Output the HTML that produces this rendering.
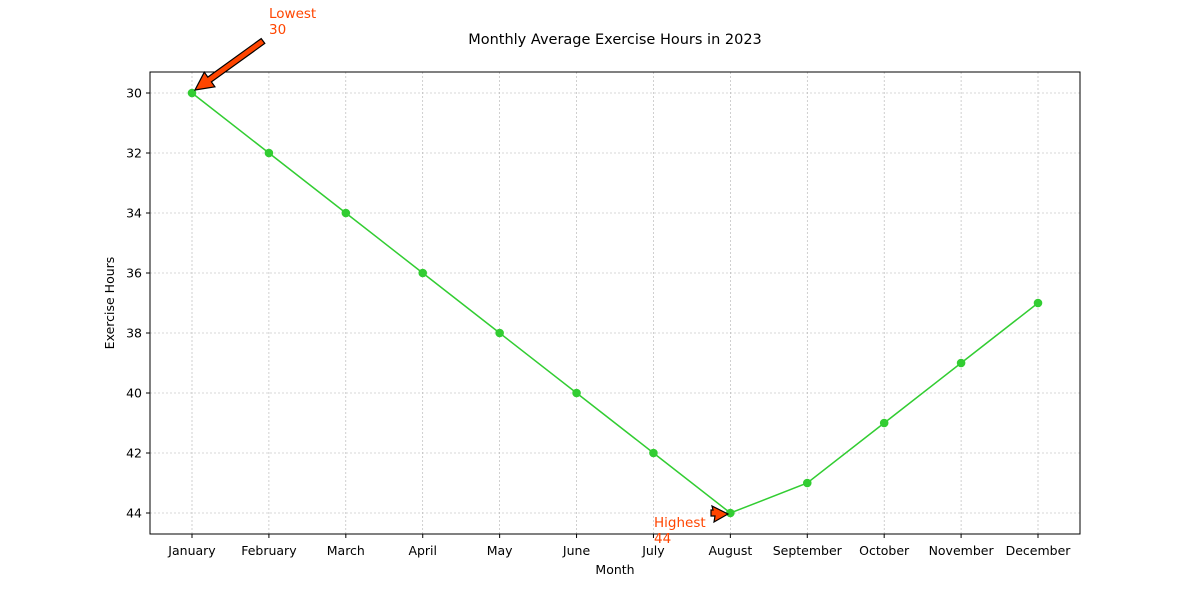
<!DOCTYPE html>
<html><head><meta charset="utf-8"><style>
body{margin:0;background:#fff}
svg text{font-family:"DejaVu Sans","Liberation Sans",sans-serif}
</style></head><body>
<svg id="c" width="1200" height="600" xmlns="http://www.w3.org/2000/svg">
<g id="marks"></g>
<path d="M195,90 L214.9,86.8 L211.4,81.9 L264.8,43.4 L261.2,38.6 L207.8,77.1 L204.3,72.2 Z" fill="#ff4500" stroke="#000" stroke-width="1.2"/>
<path d="M728,514 L714,522 L715,516 L711,516 L711,510 L713,510 L712,506 Z" fill="#ff4500" stroke="#000" stroke-width="1.2"/>
<text x="269" y="18" fill="#ff4500" font-size="13.5">Lowest</text>
<text x="269" y="34" fill="#ff4500" font-size="13.5">30</text>
<text x="654" y="527" fill="#ff4500" font-size="13.5">Highest</text>
<text x="654" y="543" fill="#ff4500" font-size="13.5">44</text>
</svg>
<script>
const months=["January","February","March","April","May","June","July","August","September","October","November","December"];
const hours=[30,32,34,36,38,40,42,44,43,41,39,37];
const yTicks=[30,32,34,36,38,40,42,44];
const svg=document.getElementById('marks');
const NS='http://www.w3.org/2000/svg';
const L=150,R=1080,T=72,B=534,ymin=29.3,ymax=44.7;
const xs=i=>192+i*(1038-192)/(months.length-1);
const ys=v=>T+(v-ymin)/(ymax-ymin)*(B-T);
function el(t,attrs,txt){const n=document.createElementNS(NS,t);for(const k in attrs)n.setAttribute(k,attrs[k]);if(txt!==undefined)n.textContent=txt;svg.appendChild(n);return n;}
let e;
e=el('text',{x:615,y:44,'text-anchor':'middle','font-size':14.5},'Monthly Average Exercise Hours in 2023');

months.forEach((m,i)=>{
 e=el('line',{x1:xs(i),x2:xs(i),y1:T,y2:B,stroke:'#b0b0b0','stroke-width':0.6,'stroke-dasharray':'2,2'});
 
 el('line',{x1:xs(i),x2:xs(i),y1:B,y2:B+4,stroke:'#000'});
 e=el('text',{x:xs(i),y:555,'text-anchor':'middle','font-size':12.5},m);
 
});
yTicks.forEach(v=>{
 e=el('line',{x1:L,x2:R,y1:ys(v),y2:ys(v),stroke:'#b0b0b0','stroke-width':0.6,'stroke-dasharray':'2,2'});
 
 el('line',{x1:L-4,x2:L,y1:ys(v),y2:ys(v),stroke:'#000'});
 e=el('text',{x:L-8,y:ys(v)+4.5,'text-anchor':'end','font-size':12.5},v);
 
});
e=el('rect',{x:L,y:T,width:R-L,height:B-T,fill:'none',stroke:'#000','stroke-width':1});

e=el('text',{x:615,y:574,'text-anchor':'middle','font-size':12.5},'Month');

e=el('text',{x:114,y:303,'text-anchor':'middle','font-size':12.5,transform:'rotate(-90 114 303)'},'Exercise Hours');

e=el('polyline',{points:hours.map((v,i)=>xs(i)+','+ys(v)).join(' '),fill:'none',stroke:'#32cd32','stroke-width':1.5});

hours.forEach((v,i)=>{
 e=el('circle',{cx:xs(i),cy:ys(v),r:4.3,fill:'#32cd32'});
 
});
</script>
</body></html>
